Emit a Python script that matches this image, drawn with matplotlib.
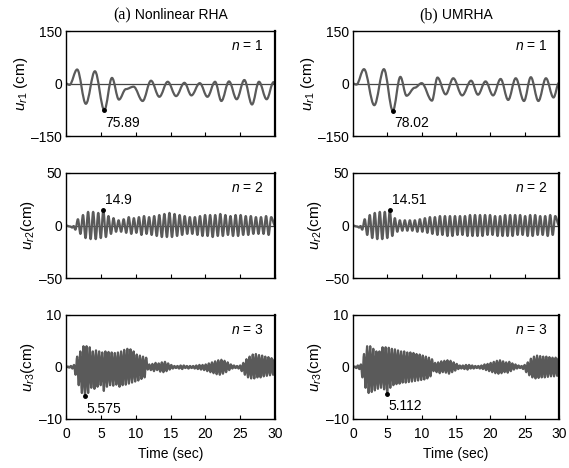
import numpy as np
import matplotlib
matplotlib.use("Agg")
import matplotlib.pyplot as plt
from matplotlib.path import Path
from matplotlib.patches import PathPatch

plt.rcParams['font.family'] = ['Liberation Sans', 'DejaVu Sans']
plt.rcParams['mathtext.fontset'] = 'custom'
plt.rcParams['mathtext.rm'] = 'Liberation Sans'
plt.rcParams['mathtext.it'] = 'Liberation Sans:italic'
plt.rcParams['font.size'] = 10

# ---------------- data ----------------
titles = ["(a)", "(b)"]
title_rest = [" Nonlinear RHA", " UMRHA"]
mode_labels = ["$n$ = 1", "$n$ = 2", "$n$ = 3"]
ylabels = [r"$u_{r1}$ (cm)", r"$u_{r2}$(cm)", r"$u_{r3}$(cm)"]
ylims = [150, 50, 10]
xticks = [0, 5, 10, 15, 20, 25, 30]

# mode 1, nonlinear RHA: times/values of extrema
m1_rha_t = [0, 0.5, 1.6, 2.85, 4.15, 5.5, 6.6, 7.6, 8.6, 9.7, 11.0, 12.2, 13.4, 14.6,
            15.8, 17.0, 18.0, 19.2, 20.3, 21.4, 22.3, 23.4, 24.5, 25.6, 26.7, 27.7,
            28.8, 29.8, 30.0]
m1_rha_v = [0, -4, 40, -58, 35, -75.89, 16, -46, -16, -9, -50, 8, -38, 5, -36, 2,
            -34, 1, -38, 5, -50, 6, -45, 10, -60, 5, -45, 4, -2]

# mode 1, UMRHA
m1_um_t = [0, 0.5, 1.6, 3.1, 4.5, 5.8, 6.9, 7.8, 9.0, 10.0, 11.5, 12.3, 13.5, 14.6,
           15.9, 17.2, 18.2, 19.3, 20.4, 21.5, 22.6, 23.7, 24.9, 25.9, 27.0, 28.1,
           29.2, 30.0]
m1_um_v = [0, -3, 41, -62, 41, -78.02, 19, -35, -12, 1, -49, 17, -31, 15, -34, 8,
           -32, 6, -34, 13, -47, 15, -50, 18, -50, 15, -40, 2]

# mode 2: lead-in wiggle, then troughs/peaks per cycle
m2_lead_t = [0, 0.6, 0.9, 1.1]
m2_lead_rha = [0, -1, -2, -0.5]
m2_lead_um = [0, -1, -2, -0.5]
m2_t0 = 1.345
m2_period = 0.73
m2_rha_trough = [-4, -8, -12, -13, -13, -12, -11, -8, -6, -6, -7, -8, -7, -9, -8, -9,
                 -10, -11, -11, -11, -10, -9, -8, -8, -9, -10, -10, -11, -10, -10,
                 -9, -10, -10, -9, -9, -8, -8, -8, -9]
m2_rha_peak = [6, 10, 13, 13, 12, 14.9, 9, 7, 5, 6, 8, 7, 8, 9, 8, 9, 10, 11, 12, 11,
               10, 9, 8, 8, 9, 10, 10, 10, 11, 10, 9, 10, 10, 9, 9, 8, 8, 9, 8]
m2_um_trough = [-4, -9, -12, -13, -13, -12, -10, -6, -5, -5, -5, -6, -6, -7, -8, -9,
                -9, -10, -10, -9, -9, -10, -10, -10, -10, -9, -9, -10, -10, -10, -10,
                -9, -9, -10, -10, -9, -9, -10, -9]
m2_um_peak = [6, 10, 12, 13, 13, 14.51, 7, 5, 5, 5, 5, 6, 7, 8, 8, 9, 9, 9, 9, 9, 9,
              10, 10, 10, 10, 10, 9, 9, 10, 10, 10, 10, 9, 10, 10, 9, 9, 10, 9]

# mode 3: troughs/peaks per cycle
m3_t0 = 0.03
m3_period = 0.45
m3_rha_trough = [0, -0.1, -0.3, -1.5, -3.5, -5.0, -5.575, -5.0, -4.0, -4.2, -3.8, -3.5,
                 -4.6, -3.8, -3.5, -3.6, -3.4, -3.8, -3.5, -3.4, -3.2, -3.0, -2.8, -2.6,
                 -2.3, -2.0, -0.5, -0.6, -0.8, -0.6, -0.9, -1.0, -0.8, -0.5, -0.3, -0.2,
                 -0.3, -0.4, -0.2, -0.3, -0.2, -0.3, -0.4, -0.5, -0.6, -0.8, -1.0, -1.2,
                 -1.4, -1.5, -1.3, -1.0, -0.6, -0.3, -0.2, -0.3, -0.8, -1.5, -2.0, -2.2,
                 -2.2, -2.0, -2.0, -1.8, -1.7, -1.6, -1.5]
m3_rha_peak = [0.1, 0.2, 0.4, 2.0, 3.0, 4.0, 4.0, 3.8, 3.0, 3.2, 3.0, 2.8, 3.0, 2.9,
               2.8, 2.7, 2.8, 3.0, 3.3, 3.5, 3.4, 3.0, 2.4, 2.2, 2.0, 1.8, 0.5, 0.6,
               0.8, 0.7, 0.9, 1.0, 0.7, 0.4, 0.2, 0.2, 0.3, 0.3, 0.2, 0.2, 0.2, 0.3,
               0.4, 0.4, 0.5, 0.7, 0.9, 1.1, 1.3, 1.4, 1.2, 0.9, 0.5, 0.3, 0.2, 0.3,
               0.8, 1.5, 2.0, 2.4, 2.5, 2.3, 2.2, 2.0, 1.9, 1.7, 1.5]
m3_um_trough = [0, -0.2, -0.4, -2.0, -4.0, -5.0, -4.8, -4.5, -4.2, -4.0, -4.3, -5.112,
                -4.0, -3.5, -3.3, -3.2, -3.0, -3.0, -2.9, -2.8, -2.7, -2.6, -2.5, -2.4,
                -2.2, -1.8, -0.8, -1.0, -1.2, -1.0, -1.1, -1.3, -1.0, -0.7, -0.4, -0.3,
                -0.4, -0.5, -0.3, -0.3, -0.2, -0.3, -0.4, -0.6, -0.8, -1.0, -1.2, -1.3,
                -1.2, -1.0, -1.1, -0.8, -0.5, -0.3, -0.2, -0.4, -1.0, -1.6, -2.0, -2.2,
                -2.1, -2.0, -2.0, -1.9, -1.8, -1.8, -1.7]
m3_um_peak = [0.1, 0.3, 0.5, 2.5, 4.0, 4.0, 3.5, 3.0, 3.0, 3.8, 3.8, 3.7, 3.5, 3.4,
              3.2, 3.0, 3.0, 2.8, 2.8, 2.7, 2.5, 2.4, 2.2, 2.0, 1.8, 1.5, 0.8, 0.9,
              1.1, 1.2, 1.3, 1.2, 0.9, 0.6, 0.3, 0.3, 0.4, 0.4, 0.3, 0.2, 0.2, 0.3,
              0.5, 0.6, 0.8, 1.0, 1.2, 1.3, 1.1, 0.9, 1.0, 0.7, 0.5, 0.3, 0.2, 0.4,
              0.9, 1.6, 2.0, 2.2, 2.1, 2.0, 2.0, 1.9, 1.8, 1.8, 1.7]

# annotated peaks: (time, value, label)
annot = [[(5.5, -75.89, "75.89"), (5.8, -78.02, "78.02")],
         [(5.36, 14.9, "14.9"), (5.43, 14.51, "14.51")],
         [(2.73, -5.575, "5.575"), (4.98, -5.112, "5.112")]]


def cycles(t0, period, troughs, peaks, lead_t=None, lead_v=None):
    n = min(len(troughs), len(peaks))
    t, v = [], []
    if lead_t is not None:
        t += list(lead_t)
        v += list(lead_v)
    for i in range(n):
        t.append(t0 + i * period)
        v.append(troughs[i])
        t.append(t0 + period / 2 + i * period)
        v.append(peaks[i])
    t.append(30.0)
    v.append(0.0)
    return np.array(t), np.array(v)


def smooth_path(t, v, k=0.36):
    """Cubic Bezier path through the extrema with flat tangents at each point."""
    verts = [(t[0], v[0])]
    codes = [Path.MOVETO]
    for i in range(len(t) - 1):
        dt = t[i + 1] - t[i]
        verts += [(t[i] + k * dt, v[i]), (t[i + 1] - k * dt, v[i + 1]), (t[i + 1], v[i + 1])]
        codes += [Path.CURVE4] * 3
    return Path(verts, codes)


series = [
    [(np.array(m1_rha_t), np.array(m1_rha_v)), (np.array(m1_um_t), np.array(m1_um_v))],
    [cycles(m2_t0, m2_period, m2_rha_trough, m2_rha_peak, m2_lead_t, m2_lead_rha),
     cycles(m2_t0, m2_period, m2_um_trough, m2_um_peak, m2_lead_t, m2_lead_um)],
    [cycles(m3_t0, m3_period, m3_rha_trough, m3_rha_peak),
     cycles(m3_t0, m3_period, m3_um_trough, m3_um_peak)],
]

# ---------------- figure ----------------
W, H = 569, 468
fig = plt.figure(figsize=(W / 100, H / 100), dpi=100)
col_x = [(66, 209), (353, 206)]
row_y = [(31, 105), (173, 105), (315, 104)]
line_col = "#5a5a5a"
title_objs = []

for r in range(3):
    for c in range(2):
        x0, w = col_x[c]
        y0, h = row_y[r]
        ax = fig.add_axes([x0 / W, 1 - (y0 + h) / H, w / W, h / H])
        t, v = series[r][c]
        ax.axhline(0, color="#444444", lw=0.9, zorder=1)
        ax.add_patch(PathPatch(smooth_path(t, v), fill=False, edgecolor=line_col,
                               lw=1.6, zorder=2, capstyle="round", joinstyle="round"))
        lim = ylims[r]
        ax.set_xlim(0, 30)
        ax.set_ylim(-lim, lim)
        ax.set_xticks(xticks)
        ax.set_yticks([-lim, 0, lim])
        ax.set_yticklabels(["\u2013%d" % lim, "0", "%d" % lim])
        ax.tick_params(direction="in", length=3, width=0.8, top=False, right=False,
                       labelsize=10)
        ax.tick_params(axis="x", pad=6)
        ax.tick_params(axis="y", pad=3)
        if r < 2:
            ax.set_xticklabels([])
        else:
            ax.set_xlabel("Time (sec)", fontsize=10, labelpad=4)
        ax.set_ylabel(ylabels[r], fontsize=11, labelpad=1)
        for s in ax.spines.values():
            s.set_linewidth(1.0)
        ax.spines["right"].set_linewidth(1.6)
        ax.text(0.945, 0.86, mode_labels[r], transform=ax.transAxes, ha="right",
                va="center", fontsize=10)
        at, av, al = annot[r][c]
        ax.plot([at], [av], "o", color="black", ms=2.5, zorder=3)
        if av < 0:
            ax.annotate(al, (at, av), xytext=(1, -4), textcoords="offset points",
                        ha="left", va="top", fontsize=10)
        else:
            ax.annotate(al, (at, av), xytext=(1, 2), textcoords="offset points",
                        ha="left", va="bottom", fontsize=10)
        if r == 0:
            cx = (x0 + w / 2) / W
            t1 = fig.text(cx, 1 - 15 / H, titles[c], ha="left", va="center",
                          fontsize=11.5, family="Liberation Serif")
            t2 = fig.text(cx, 1 - 15 / H, title_rest[c], ha="left", va="center",
                          fontsize=10)
            title_objs.append((cx, t1, t2))

# center the composite titles
fig.canvas.draw()
rend = fig.canvas.get_renderer()
for cx, t1, t2 in title_objs:
    w1 = t1.get_window_extent(rend).width / W
    w2 = t2.get_window_extent(rend).width / W
    start = cx - (w1 + w2) / 2
    t1.set_x(start)
    t2.set_x(start + w1)

fig.savefig("out.png", dpi=100)
